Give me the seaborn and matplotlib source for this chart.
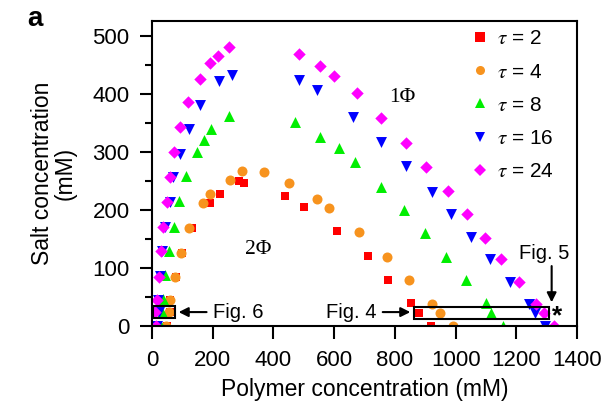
import numpy as np
import pandas as pd
import seaborn as sns
import matplotlib.pyplot as plt
from matplotlib.patches import Rectangle
from matplotlib.lines import Line2D

# Data
tau2_x = [50, 60, 61, 78, 100, 132, 191, 223, 286, 303,
          439, 500, 610, 711, 777, 853, 879, 919]
tau2_y = [0, 25, 44, 84, 126, 168, 211, 227, 249, 247,
          223, 205, 163, 120, 80, 39, 22, 0]

tau4_x = [48, 57, 59, 76, 95, 123, 167, 193, 256, 298, 369,
          450, 542, 582, 681, 773, 846, 921, 949, 990]
tau4_y = [0, 25, 44, 84, 126, 168, 211, 227, 252, 267, 265,
          247, 219, 203, 162, 118, 79, 38, 22, 0]

tau8_x = [30, 35, 37, 43, 57, 72, 90, 114, 147, 171, 196, 253,
          470, 555, 615, 669, 755, 831, 899, 968, 1034, 1100, 1118, 1155]
tau8_y = [0, 25, 46, 88, 130, 171, 216, 259, 299, 320, 340, 361,
          352, 326, 306, 282, 240, 200, 160, 118, 79, 40, 23, 0]

tau16_x = [18, 22, 20, 26, 33, 44, 61, 70, 94, 122, 160, 221, 264,
           483, 543, 662, 755, 835, 922, 985, 1050, 1113, 1179, 1240, 1262, 1295]
tau16_y = [0, 25, 45, 86, 130, 170, 214, 256, 297, 340, 381, 421, 433,
           423, 406, 360, 316, 276, 230, 193, 153, 115, 75, 38, 22, 0]

tau24_x = [13, 10, 17, 24, 30, 37, 50, 59, 73, 93, 119, 158, 193, 218, 254,
           483, 554, 599, 675, 755, 835, 903, 976, 1036, 1097, 1149, 1209, 1266, 1292, 1324]
tau24_y = [0, 25, 45, 85, 130, 171, 214, 257, 299, 343, 386, 425, 452, 465, 480,
           468, 448, 430, 402, 358, 315, 274, 232, 193, 151, 115, 75, 38, 22, 0]

labels = [r'$\tau$ = 2', r'$\tau$ = 4', r'$\tau$ = 8', r'$\tau$ = 16', r'$\tau$ = 24']
colors = ['#ff0000', '#f7931e', '#00ee00', '#0000ff', '#ff00ff']
markers = ['s', 'o', '^', 'v', 'D']
sizes = [40, 52, 62, 62, 40]

xs = [tau2_x, tau4_x, tau8_x, tau16_x, tau24_x]
ys = [tau2_y, tau4_y, tau8_y, tau16_y, tau24_y]

frames = []
for lab, x, y in zip(labels, xs, ys):
    frames.append(pd.DataFrame({'polymer': x, 'salt': y, 'tau': lab}))
df = pd.concat(frames, ignore_index=True)

#%% Plot
sns.set_style('ticks')
plt.rcParams['font.family'] = ['Liberation Sans', 'DejaVu Sans']
plt.rcParams['mathtext.fontset'] = 'stix'
plt.rcParams['text.color'] = 'black'
plt.rcParams['axes.labelcolor'] = 'black'
plt.rcParams['xtick.color'] = 'black'
plt.rcParams['ytick.color'] = 'black'

fig = plt.figure(figsize=(6.05, 4.05), dpi=100)
ax = fig.add_axes([0.251, 0.195, 0.703, 0.753])

for lab, c, m, s in zip(labels, colors, markers, sizes):
    sns.scatterplot(data=df[df['tau'] == lab], x='polymer', y='salt', color=c,
                    marker=m, s=s, linewidth=0, ax=ax, legend=False)

ax.set_xlim(0, 1400)
ax.set_ylim(0, 525)
ax.set_xticks(np.arange(0, 1401, 200))
ax.set_yticks(np.arange(0, 501, 100))
ax.set_yticks(np.arange(50, 501, 100), minor=True)
ax.tick_params(axis='both', which='major', direction='out', length=9, width=1.5,
               labelsize=16)
ax.tick_params(axis='x', which='major', pad=8)
ax.tick_params(axis='y', which='major', pad=7)
ax.tick_params(axis='y', which='minor', direction='out', length=5, width=1.5)
for sp in ax.spines.values():
    sp.set_linewidth(1.5)
    sp.set_color('black')

ax.set_xlabel('Polymer concentration (mM)', fontsize=16.5, labelpad=5)
ax.set_ylabel('Salt concentration\n(mM)', fontsize=16.5, labelpad=11, linespacing=1.0)

# phase labels
ax.text(349, 131, '2\u03a6', fontsize=15.5, ha='center', va='center',
        family=['Liberation Serif', 'DejaVu Serif'])
ax.text(826, 393, '1\u03a6', fontsize=15.5, ha='center', va='center',
        family=['Liberation Serif', 'DejaVu Serif'])

# legend
handles = [Line2D([], [], ls='', marker=m, color=c, markersize=6.5, mew=0)
           for c, m in zip(colors, markers)]
ax.legend(handles, labels, loc='upper left', bbox_to_anchor=(0.738, 1.0),
          frameon=False, fontsize=15, handlelength=0.6, handletextpad=0.5,
          labelspacing=0.68, borderaxespad=0.0)

# boxes and arrows pointing to the other figures
ax.add_patch(Rectangle((4, 13), 73, 22, fill=False, lw=1.5, ec='black', zorder=5))
ax.add_patch(Rectangle((862, 12), 444, 21, fill=False, lw=1.5, ec='black', zorder=5))
arrow = dict(arrowstyle='-|>', color='black', lw=1.5, mutation_scale=14)
ax.annotate('Fig. 6', xy=(79, 24), xytext=(200, 24), fontsize=14.5,
            ha='left', va='center', arrowprops=arrow)
ax.annotate('Fig. 4', xy=(860, 24), xytext=(740, 24), fontsize=14.5,
            ha='right', va='center', arrowprops=arrow)
ax.annotate('', xy=(1316, 36), xytext=(1316, 108), arrowprops=arrow)
ax.text(1293, 124, 'Fig. 5', fontsize=14.5, ha='center', va='center')
ax.text(1333, 16, '*', fontsize=19, ha='center', va='center', fontweight='bold')

fig.text(0.058, 0.952, 'a', fontsize=20, fontweight='bold', ha='center', va='center')

plt.savefig('out.png', dpi=100)
